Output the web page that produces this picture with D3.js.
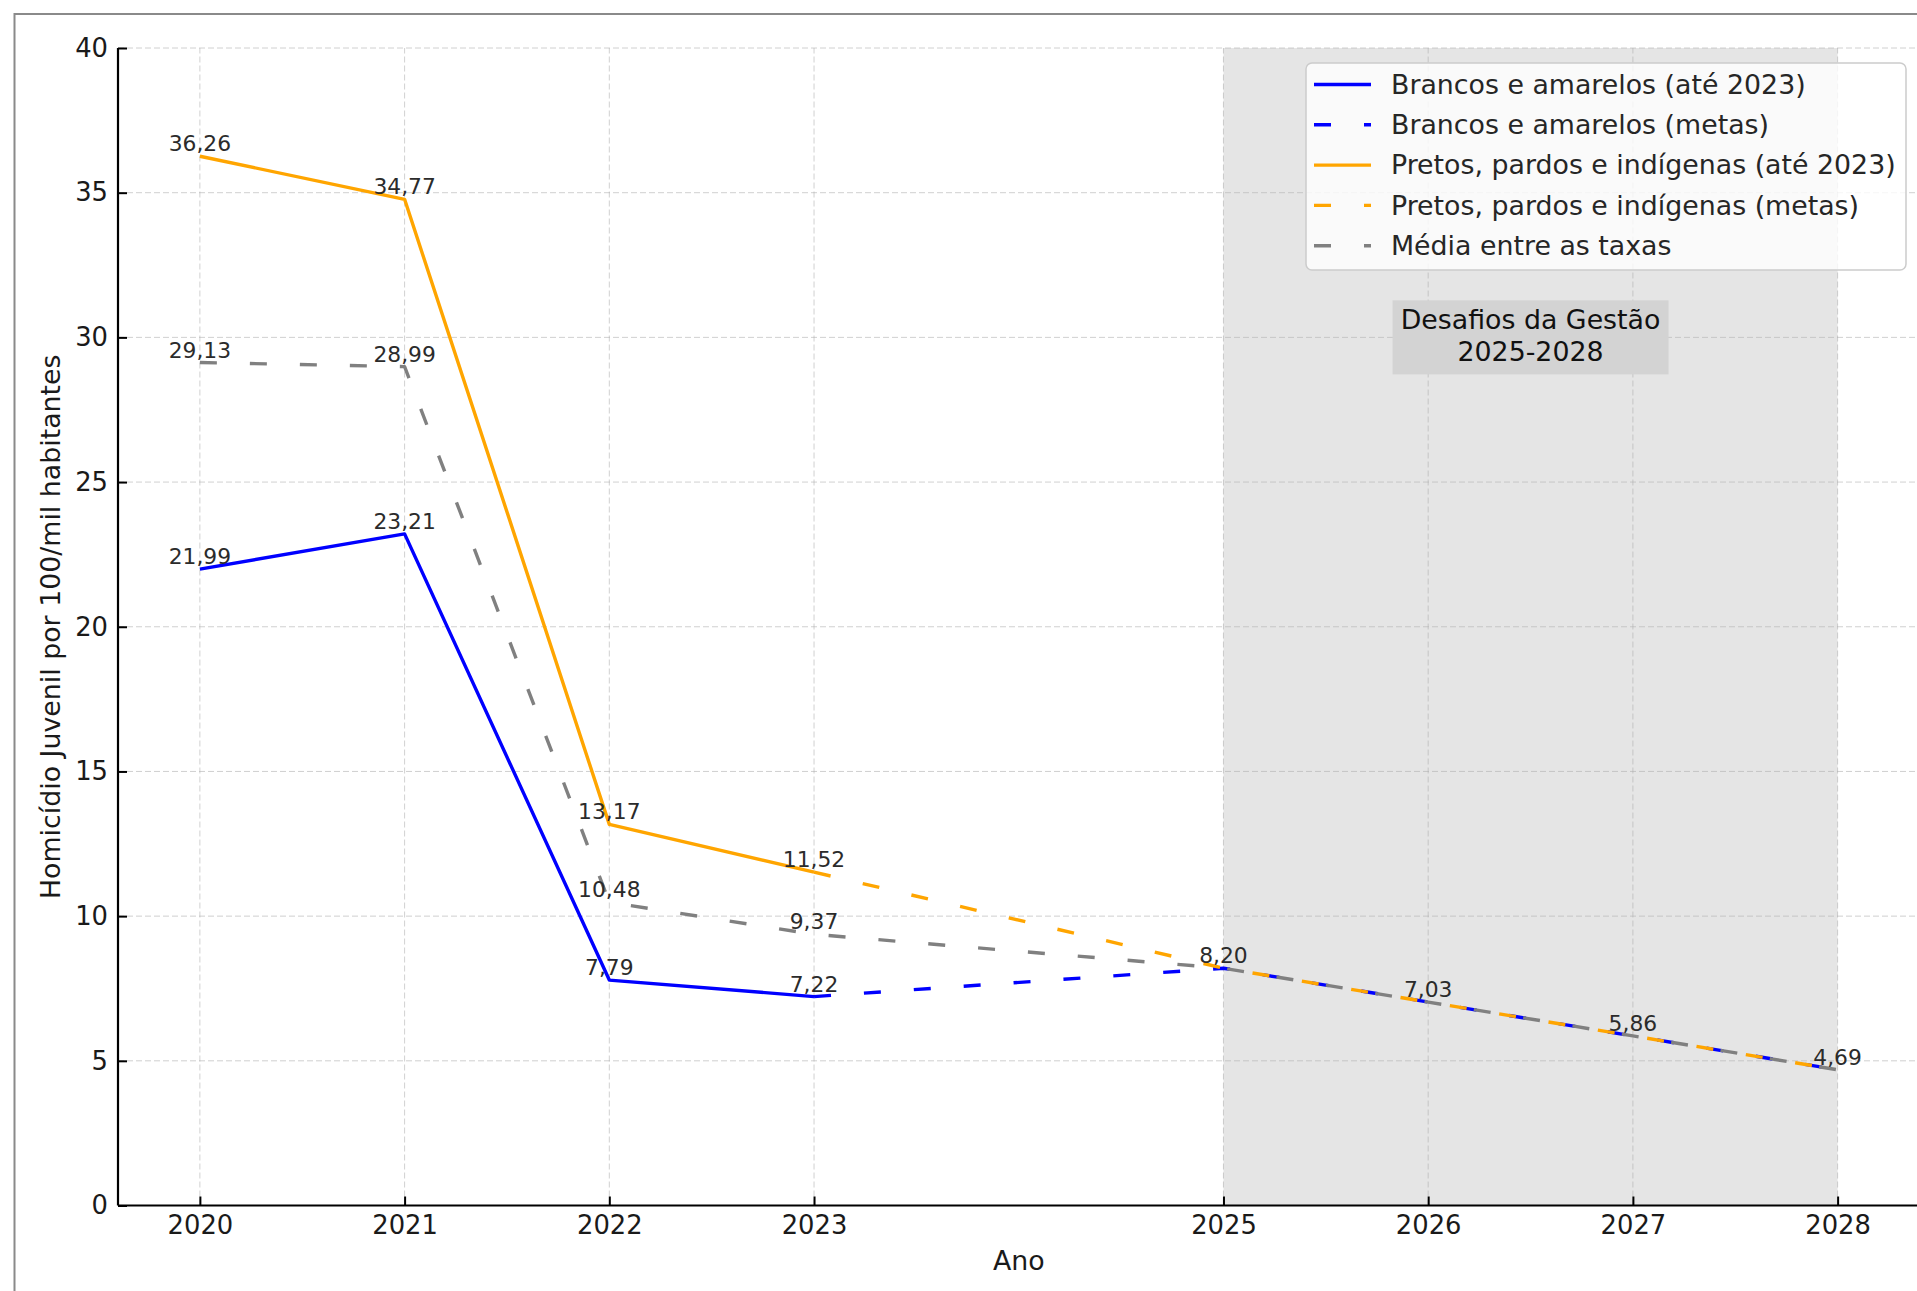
<!DOCTYPE html>
<html><head><meta charset="utf-8">
<script src="https://cdn.jsdelivr.net/npm/d3@7"></script>
<style>
html,body{margin:0;padding:0;background:#fff;overflow:hidden;}
svg text{font-family:"DejaVu Sans",sans-serif;}
</style></head>
<body>
<svg id="chart" width="1917" height="1291"></svg>
<script>
// ---- data ----
const xTicks = [2020, 2021, 2022, 2023, 2025, 2026, 2027, 2028];
const yTicks = [0, 5, 10, 15, 20, 25, 30, 35, 40];
const histYears = [2020, 2021, 2022, 2023];
const metaYears = [2023, 2025, 2026, 2027, 2028];
const mediaYears = [2020, 2021, 2022, 2023, 2025, 2026, 2027, 2028];
const brancosHist = [21.99, 23.21, 7.79, 7.22];
const brancosMeta = [7.22, 8.20, 7.03, 5.86, 4.69];
const pretosHist = [36.26, 34.77, 13.17, 11.52];
const pretosMeta = [11.52, 8.20, 7.03, 5.86, 4.69];
const media = [29.13, 28.99, 10.48, 9.37, 8.20, 7.03, 5.86, 4.69];
const metaLabelYears = [2025, 2026, 2027, 2028];
const metaLabelValues = [8.20, 7.03, 5.86, 4.69];
const legendLabels = ["Brancos e amarelos (até 2023)", "Brancos e amarelos (metas)", "Pretos, pardos e indígenas (até 2023)", "Pretos, pardos e indígenas (metas)", "Média entre as taxas"];
const shadeRange = [2025, 2028];
const boxLines = ["Desafios da Gestão", "2025-2028"];

const svg = d3.select("#chart");
const fmt = v => v.toFixed(2).replace(".", ",");
const FS = 26.8;

const x = d3.scaleLinear().domain([2019.6, 2028.4]).range([118, 1919.5]);
const y = d3.scaleLinear().domain([0, 40]).range([1205.5, 48]);

// outer frame
svg.append("rect").attr("x", 14.5).attr("y", 14).attr("width", 2000).attr("height", 2000)
  .attr("fill", "none").attr("stroke", "#8a8a8a").attr("stroke-width", 2);

// shaded region
svg.append("rect").attr("x", x(shadeRange[0])).attr("y", y(40))
  .attr("width", x(shadeRange[1]) - x(shadeRange[0])).attr("height", y(0) - y(40))
  .attr("fill", "#d3d3d3").attr("fill-opacity", 0.58);

// grid
const grid = svg.append("g");
grid.selectAll("line.gy").data(yTicks).join("line")
  .attr("x1", x.range()[0]).attr("x2", x.range()[1])
  .attr("y1", d => y(d)).attr("y2", d => y(d))
  .attr("stroke", "#b0b0b0").attr("stroke-opacity", 0.6).attr("stroke-width", 1)
  .attr("stroke-dasharray", "6,3");
grid.selectAll("line.gx").data(xTicks).join("line")
  .attr("x1", d => x(d)).attr("x2", d => x(d))
  .attr("y1", y(0)).attr("y2", y(40))
  .attr("stroke", "#b0b0b0").attr("stroke-opacity", 0.6).attr("stroke-width", 1)
  .attr("stroke-dasharray", "6,3");

// axes
const yAxis = d3.axisLeft(y).tickValues(yTicks).tickSize(-9).tickPadding(10).tickFormat(d3.format("d"));
const xAxis = d3.axisBottom(x).tickValues(xTicks).tickSize(-9).tickPadding(10).tickFormat(d3.format("d"));
const gy = svg.append("g").attr("transform", `translate(${x.range()[0]},0)`).call(yAxis);
const gx = svg.append("g").attr("transform", `translate(0,${y(0)})`).call(xAxis);
[gx, gy].forEach(g => {
  g.select(".domain").attr("stroke", "#000").attr("stroke-width", 2.2);
  g.selectAll(".tick line").attr("stroke", "#000").attr("stroke-width", 2);
  g.selectAll(".tick text").attr("font-size", 25.8).attr("fill", "#1a1a1a")
   .style("font-family", "DejaVu Sans");
});
gy.select(".domain").attr("d", `M0,${y(0)}V${y(40)}`);
gx.select(".domain").attr("d", `M${x.range()[0]},0H${x.range()[1]}`);

// axis labels
svg.append("text").attr("x", (x.range()[0] + x.range()[1]) / 2).attr("y", 1270)
  .attr("text-anchor", "middle").attr("font-size", FS).attr("fill", "#1a1a1a").text("Ano");
svg.append("text").attr("transform", `translate(60,${(y(0) + y(40)) / 2}) rotate(-90)`)
  .attr("text-anchor", "middle").attr("font-size", FS).attr("fill", "#1a1a1a")
  .text("Homicídio Juvenil por 100/mil habitantes");

// lines
const line = d3.line().x(d => x(d[0])).y(d => y(d[1]));
const zip = (a, b) => a.map((v, i) => [v, b[i]]);
const DASH = "17,33";
const series = [
  {years: histYears, vals: brancosHist, color: "#0000ff", dash: null},
  {years: metaYears, vals: brancosMeta, color: "#0000ff", dash: DASH},
  {years: histYears, vals: pretosHist, color: "#ffa500", dash: null},
  {years: metaYears, vals: pretosMeta, color: "#ffa500", dash: DASH},
  {years: mediaYears, vals: media, color: "#808080", dash: DASH}
];
series.forEach(s => {
  svg.append("path").datum(zip(s.years, s.vals)).attr("d", line)
    .attr("fill", "none").attr("stroke", s.color).attr("stroke-width", 3.4)
    .attr("stroke-linejoin", "round")
    .attr("stroke-dasharray", s.dash);
});

// value labels
const labels = [];
[brancosHist, pretosHist, media.slice(0, 4)].forEach(arr => arr.forEach((v, i) => labels.push([histYears[i], v])));
metaLabelYears.forEach((yr, i) => labels.push([yr, metaLabelValues[i]]));
svg.append("g").selectAll("text").data(labels).join("text")
  .attr("x", d => x(d[0])).attr("y", d => y(d[1]) - 5)
  .attr("text-anchor", "middle").attr("font-size", 21.8).attr("fill", "#2b2b2b")
  .text(d => fmt(d[1]));

// annotation box
const bx = x(2026.5), by = y(30);
svg.append("rect").attr("x", bx - 138).attr("y", by - 37).attr("width", 276).attr("height", 74)
  .attr("fill", "#d3d3d3");
svg.append("g").selectAll("text").data(boxLines).join("text")
  .attr("x", bx).attr("y", (d, i) => by - 8 + i * 32)
  .attr("text-anchor", "middle").attr("font-size", FS).attr("fill", "#111")
  .text(d => d);

// legend
const lg = svg.append("g");
lg.append("rect").attr("x", 1306).attr("y", 63).attr("width", 600).attr("height", 207)
  .attr("rx", 6).attr("fill", "#fff").attr("fill-opacity", 0.8)
  .attr("stroke", "#cccccc").attr("stroke-width", 1.5);
series.forEach((s, i) => {
  const yy = 84.5 + i * 40.3;
  lg.append("line").attr("x1", 1314).attr("x2", 1371).attr("y1", yy).attr("y2", yy)
    .attr("stroke", s.color).attr("stroke-width", 3.4).attr("stroke-dasharray", s.dash);
  lg.append("text").attr("x", 1391).attr("y", yy).attr("dy", "0.35em")
    .attr("font-size", FS).attr("fill", "#262626").text(legendLabels[i]);
});
</script>
</body></html>
